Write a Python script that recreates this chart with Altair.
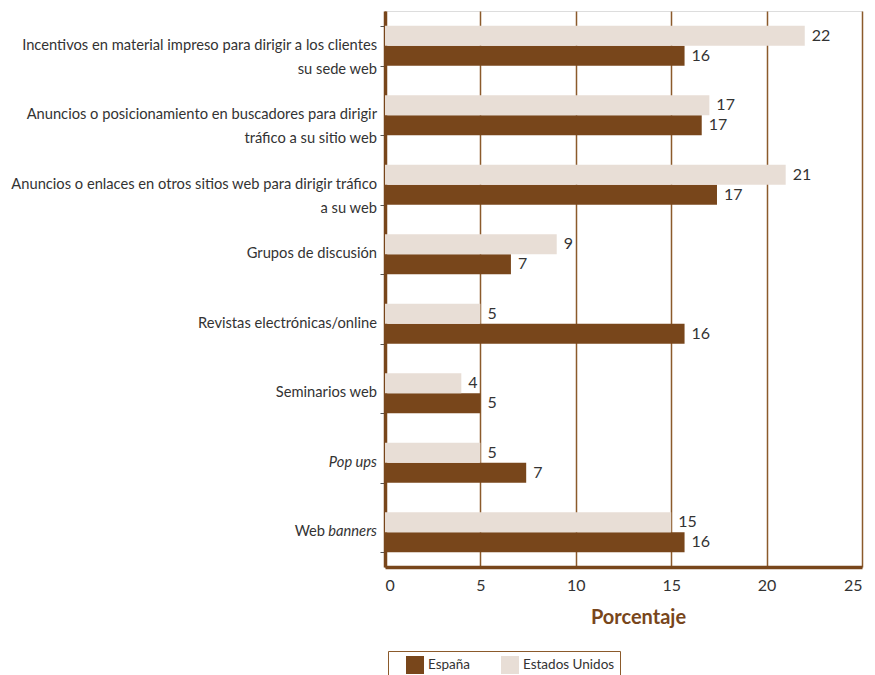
import altair as alt
import pandas as pd

categories = [
    "Incentivos en material impreso para dirigir a los clientes su sede web",
    "Anuncios o posicionamiento en buscadores para dirigir tráfico a su sitio web",
    "Anuncios o enlaces en otros sitios web para dirigir tráfico a su web",
    "Grupos de discusión",
    "Revistas electrónicas/online",
    "Seminarios web",
    "Pop ups",
    "Web banners",
]
label_lines = [
    "Incentivos en material impreso para dirigir a los clientes\nsu sede web",
    "Anuncios o posicionamiento en buscadores para dirigir\ntráfico a su sitio web",
    "Anuncios o enlaces en otros sitios web para dirigir tráfico\na su web",
    "Grupos de discusión",
    "Revistas electrónicas/online",
    "Seminarios web",
    "",
    "",
]
italic_labels = ["", "", "", "", "", "", "Pop ups", "banners"]
prefix_labels = ["", "", "", "", "", "", "", "Web"]

espana = [15.7, 16.6, 17.4, 6.6, 15.7, 5.0, 7.4, 15.7]
eeuu = [22, 17, 21, 9, 5, 4, 5, 15]
series = ["España", "Estados Unidos"]

BROWN = "#78461b"
LIGHT = "#e8ded6"
GRID = "#8b5a2b"
TEXT = "#333333"
FONT = "Lato"

rows = []
for c, e, u in zip(categories, espana, eeuu):
    rows.append({"cat": c, "serie": "España", "val": e})
    rows.append({"cat": c, "serie": "Estados Unidos", "val": u})
df = pd.DataFrame(rows)

labels_df = pd.DataFrame({
    "cat": categories,
    "lab": label_lines,
    "ital": italic_labels,
    "pre": prefix_labels,
    "zero": [0] * len(categories),
})

yscale = alt.Scale(domain=categories, paddingInner=0.42, paddingOuter=0.21)
y = alt.Y("cat:N", scale=yscale, sort=categories,
          axis=alt.Axis(title=None, labels=False, ticks=True, tickBand="extent",
                        tickColor="#555555", tickSize=5, tickWidth=1,
                        domain=True, domainColor=BROWN, domainWidth=3.5, grid=False))

xscale = alt.Scale(domain=[0, 25], nice=False)

bars = alt.Chart(df).mark_bar(size=20).encode(
    x=alt.X("val:Q", scale=xscale,
            axis=alt.Axis(title="Porcentaje", values=[0, 5, 10, 15, 20, 25],
                          grid=True, gridColor=GRID, gridWidth=1.5, gridOpacity=1,
                          ticks=False, domainColor=BROWN, domainWidth=3.5,
                          labelFontSize=16, labelColor=TEXT, labelFont=FONT,
                          labelPadding=10, titleFont=FONT, titleFontSize=20,
                          titleColor=BROWN, titleFontWeight="bold", titlePadding=14,
                          titleX=253, titleAlign="center")),
    y=y,
    yOffset=alt.YOffset("serie:N", sort=["Estados Unidos", "España"]),
    color=alt.Color("serie:N", scale=alt.Scale(domain=series, range=[BROWN, LIGHT]),
                    legend=alt.Legend(title=None, orient="none", direction="horizontal",
                                      legendX=3, legendY=640, symbolType="square",
                                      symbolSize=324, symbolStrokeWidth=0,
                                      symbolOpacity=1, symbolOffset=13,
                                      labelFont=FONT, labelFontSize=13.5, labelColor=TEXT,
                                      columnPadding=17, padding=5,
                                      strokeColor=GRID, fillColor="white",
                                      labelOffset=4)),
)

values = alt.Chart(df).mark_text(align="left", baseline="middle", dx=7,
                                 fontSize=16, font=FONT, color=TEXT).encode(
    x=alt.X("val:Q", scale=xscale),
    y=alt.Y("cat:N", scale=yscale, sort=categories),
    yOffset=alt.YOffset("serie:N", sort=["Estados Unidos", "España"]),
    text=alt.Text("val:Q", format=".0f"),
)

cat_text = alt.Chart(labels_df).mark_text(
    align="right", baseline="middle", dx=-8, fontSize=14.7, font=FONT,
    color=TEXT, lineBreak="\n", lineHeight=24).encode(
    x=alt.X("zero:Q", scale=xscale),
    y=alt.Y("cat:N", scale=yscale, sort=categories),
    text="lab:N",
)

ital_text = alt.Chart(labels_df).mark_text(
    align="right", baseline="middle", dx=-8, fontSize=14.7, font=FONT,
    color=TEXT, fontStyle="italic").encode(
    x=alt.X("zero:Q", scale=xscale),
    y=alt.Y("cat:N", scale=yscale, sort=categories),
    text="ital:N",
)

pre_text = alt.Chart(labels_df).mark_text(
    align="right", baseline="middle", dx=-60, fontSize=14.7, font=FONT,
    color=TEXT).encode(
    x=alt.X("zero:Q", scale=xscale),
    y=alt.Y("cat:N", scale=yscale, sort=categories),
    text="pre:N",
)

chart = alt.layer(bars, values, cat_text, ital_text, pre_text).properties(
    width=477, height=556,
    autosize=alt.AutoSizeParams(type="none"),
    padding={"left": 377, "top": 3, "right": 5, "bottom": 108},
).configure_view(stroke=GRID, strokeWidth=1.5).configure(background="white")

chart.save("out.html", embed_options={"renderer": "svg", "actions": False})
